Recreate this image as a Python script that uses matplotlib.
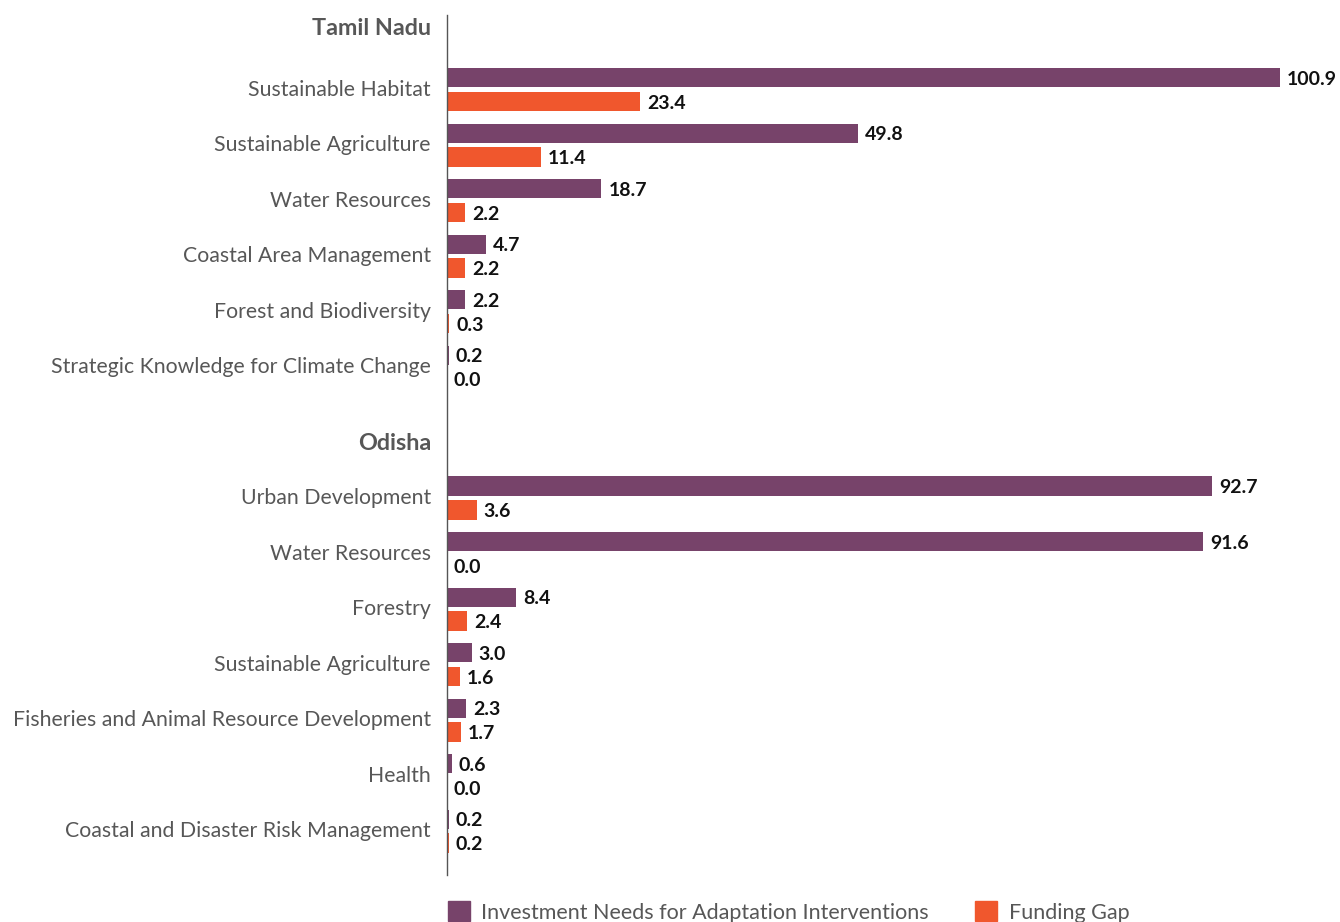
import matplotlib.pyplot as plt
from matplotlib.patches import Patch

plt.rcParams['font.family'] = ['Lato', 'DejaVu Sans']

# Investment needs vs funding gap by sector (INR '000 crore)
tn_sectors = ['Sustainable Habitat', 'Sustainable Agriculture', 'Water Resources',
              'Coastal Area Management', 'Forest and Biodiversity',
              'Strategic Knowledge for Climate Change']
tn_needs = [100.9, 49.8, 18.7, 4.7, 2.2, 0.2]
tn_gap = [23.4, 11.4, 2.2, 2.2, 0.3, 0.0]

od_sectors = ['Urban Development', 'Water Resources', 'Forestry', 'Sustainable Agriculture',
              'Fisheries and Animal Resource Development', 'Health',
              'Coastal and Disaster Risk Management']
od_needs = [92.7, 91.6, 8.4, 3.0, 2.3, 0.6, 0.2]
od_gap = [3.6, 0.0, 2.4, 1.6, 1.7, 0.0, 0.2]

purple = '#77436A'
orange = '#F0572D'
label_col = '#575757'

fig = plt.figure(figsize=(13.4, 9.22), dpi=100)
ax = fig.add_axes([447 / 1340, 47 / 922, 893 / 1340, 860 / 922])

tn_y = list(range(len(tn_sectors)))
od_start = 7.36
od_y = [od_start + i for i in range(len(od_sectors))]

bh = 0.35
off = 0.215

groups = [(tn_sectors, tn_needs, tn_gap, tn_y), (od_sectors, od_needs, od_gap, od_y)]
for sectors, needs, gap, ys in groups:
    ax.barh([y - off for y in ys], needs, height=bh, color=purple)
    ax.barh([y + off for y in ys], gap, height=bh, color=orange)
    for name, n, g, y in zip(sectors, needs, gap, ys):
        ax.annotate(name, xy=(0, y), xytext=(-16, 2), textcoords='offset pixels',
                    ha='right', va='center_baseline', fontsize=15.3, color=label_col,
                    annotation_clip=False)
        ax.annotate(f'{n:.1f}', xy=(n, y - off), xytext=(7, 0), textcoords='offset pixels',
                    ha='left', va='center_baseline', fontsize=14, fontweight='bold',
                    color='#111111', annotation_clip=False)
        ax.annotate(f'{g:.1f}', xy=(g, y + off), xytext=(7, 0), textcoords='offset pixels',
                    ha='left', va='center_baseline', fontsize=14, fontweight='bold',
                    color='#111111', annotation_clip=False)

# state headers
for name, y in [('Tamil Nadu', -1.12), ('Odisha', od_start - 1)]:
    ax.annotate(name, xy=(0, y), xytext=(-16, 1), textcoords='offset pixels',
                ha='right', va='center_baseline', fontsize=16.8, fontweight='bold',
                color=label_col, annotation_clip=False)

ax.set_xlim(0, 108.2)
ax.set_ylim(14.15, -1.345)
for s in ['top', 'right', 'bottom']:
    ax.spines[s].set_visible(False)
ax.spines['left'].set_color('#555555')
ax.spines['left'].set_linewidth(1)
ax.set_xticks([])
ax.set_yticks([])

handles = [Patch(color=purple, label='Investment Needs for Adaptation Interventions'),
           Patch(color=orange, label='Funding Gap')]
fig.legend(handles=handles, loc='center left', bbox_to_anchor=(448 / 1340, 1 - 912 / 922),
           ncol=2, frameon=False, handlelength=1.0, handleheight=1.0,
           handletextpad=0.55, columnspacing=2.15, borderaxespad=0, borderpad=0,
           labelcolor=label_col, prop={'size': 15.5})

fig.savefig('out.png', dpi=100)
